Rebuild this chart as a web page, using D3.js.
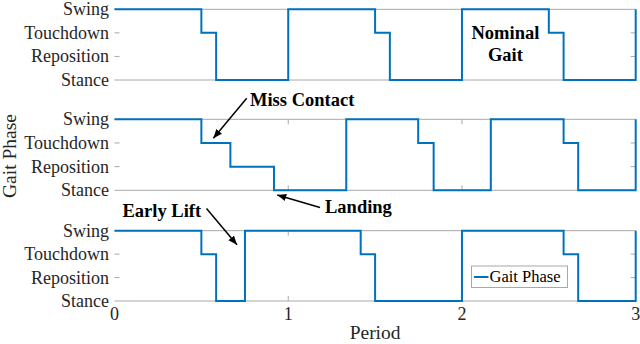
<!DOCTYPE html>
<html><head><meta charset="utf-8">
<script src="https://cdn.jsdelivr.net/npm/d3@7"></script>
<style>body{margin:0;background:#fff}svg{display:block}</style>
</head><body>
<script>
const phaseLabels = ["Stance","Reposition","Touchdown","Swing"];
const xTicks = [0,1,2,3];
const nominalT = [0,0.5,0.585,1.0,1.5,1.585,2.0,2.5,2.585,3];
const nominalP = [3,2,0,3,2,0,3,2,0,3];
const missT = [0,0.5,0.667,0.918,1.334,1.748,1.837,2.166,2.585,2.669,3];
const missP = [3,2,1,0,3,2,0,3,2,0,3];
const earlyT = [0,0.5,0.585,0.751,1.417,1.5,2.0,2.585,2.669,3];
const earlyP = [3,2,0,3,2,0,3,2,0,3];

const W=640,H=344;
const svg=d3.select("body").append("svg").attr("width",W).attr("height",H);
const defs=svg.append("defs");
defs.append("marker").attr("id","ah").attr("viewBox","0 0 10 10").attr("refX",10).attr("refY",5)
  .attr("markerWidth",9).attr("markerHeight",9).attr("markerUnits","userSpaceOnUse").attr("orient","auto")
  .append("path").attr("d","M0,1 L10,5 L0,9 Z").attr("fill","#000");

const x=d3.scaleLinear().domain([0,3]).range([114.5,635.7]);
const panels=[
  {t:nominalT,p:nominalP,top:9.3,bot:80},
  {t:missT,p:missP,top:119.3,bot:190.3},
  {t:earlyT,p:earlyP,top:230.7,bot:301}
];
const serif="'Liberation Serif','Times New Roman',serif";
const gray="#a8a8a8";
const ys=[];
panels.forEach((pn,i)=>{
  const y=d3.scaleLinear().domain([0,3]).range([pn.bot,pn.top]);
  ys.push(y);
  const g=svg.append("g");
  g.append("line").attr("x1",x(0)).attr("x2",x(3)).attr("y1",y(3)).attr("y2",y(3)).attr("stroke",gray);
  g.append("line").attr("x1",x(0)).attr("x2",x(3)).attr("y1",y(0)).attr("y2",y(0)).attr("stroke",gray);
  [1,2].forEach(v=>{
    g.append("line").attr("x1",x(0)).attr("x2",x(0)+5).attr("y1",y(v)).attr("y2",y(v)).attr("stroke",gray);
    g.append("line").attr("x1",x(3)).attr("x2",x(3)-5).attr("y1",y(v)).attr("y2",y(v)).attr("stroke",gray);
  });
  [1,2].forEach(v=>{
    g.append("line").attr("x1",x(v)).attr("x2",x(v)).attr("y1",y(0)).attr("y2",y(0)-5).attr("stroke",gray);
    g.append("line").attr("x1",x(v)).attr("x2",x(v)).attr("y1",y(3)).attr("y2",y(3)+5).attr("stroke",gray);
  });
  phaseLabels.forEach((lab,k)=>{
    g.append("text").attr("x",109).attr("y",y(k)).attr("dy","0.33em").attr("text-anchor","end")
      .attr("font-family",serif).attr("font-size",18).attr("fill","#262626").text(lab);
  });
  const pts=pn.t.map((t,k)=>[t,pn.p[k]]);
  g.append("path").datum(pts)
    .attr("d",d3.line().x(d=>x(d[0])).y(d=>y(d[1])).curve(d3.curveStepAfter))
    .attr("fill","none").attr("stroke","#0072BD").attr("stroke-width",2);
});
xTicks.forEach(v=>{
  svg.append("text").attr("x",x(v)).attr("y",320).attr("text-anchor","middle")
    .attr("font-family",serif).attr("font-size",18).attr("fill","#262626").text(v);
});
svg.append("text").attr("x",x(1.5)).attr("y",339).attr("text-anchor","middle")
  .attr("font-family",serif).attr("font-size",19.5).attr("fill","#262626").text("Period");
svg.append("text").attr("transform","translate(16,156) rotate(-90)").attr("text-anchor","middle")
  .attr("font-family",serif).attr("font-size",19.5).attr("fill","#262626").text("Gait Phase");

function bold(tx,ty,s,anchor){
  svg.append("text").attr("x",tx).attr("y",ty).attr("text-anchor",anchor||"start")
    .attr("font-family",serif).attr("font-weight","bold").attr("font-size",18.5).attr("fill","#000").text(s);
}
function arrow(x1,y1,x2,y2){
  svg.append("line").attr("x1",x1).attr("y1",y1).attr("x2",x2).attr("y2",y2)
    .attr("stroke","#000").attr("stroke-width",1.5).attr("marker-end","url(#ah)");
}
bold(x(2.25),38.5,"Nominal","middle");
bold(x(2.25),60.5,"Gait","middle");
bold(250,105.5,"Miss Contact");
arrow(x(0.761),ys[1](3.89),x(0.569),ys[1](2.2));
bold(325,213,"Landing");
arrow(320,207.5,x(0.937),ys[1](-0.2));
bold(122.5,216.5,"Early Lift");
arrow(206.5,208.5,x(0.705),ys[2](2.4));

const lg=svg.append("g");
lg.append("rect").attr("x",471.5).attr("y",266).attr("width",96).attr("height",21.5)
  .attr("fill","#fff").attr("stroke","#a8a8a8");
lg.append("line").attr("x1",474).attr("x2",488.5).attr("y1",277).attr("y2",277).attr("stroke","#0072BD").attr("stroke-width",2);
lg.append("text").attr("x",489.5).attr("y",277).attr("dy","0.33em").attr("font-family",serif)
  .attr("font-size",16.5).attr("fill","#000").text("Gait Phase");
</script>
</body></html>
